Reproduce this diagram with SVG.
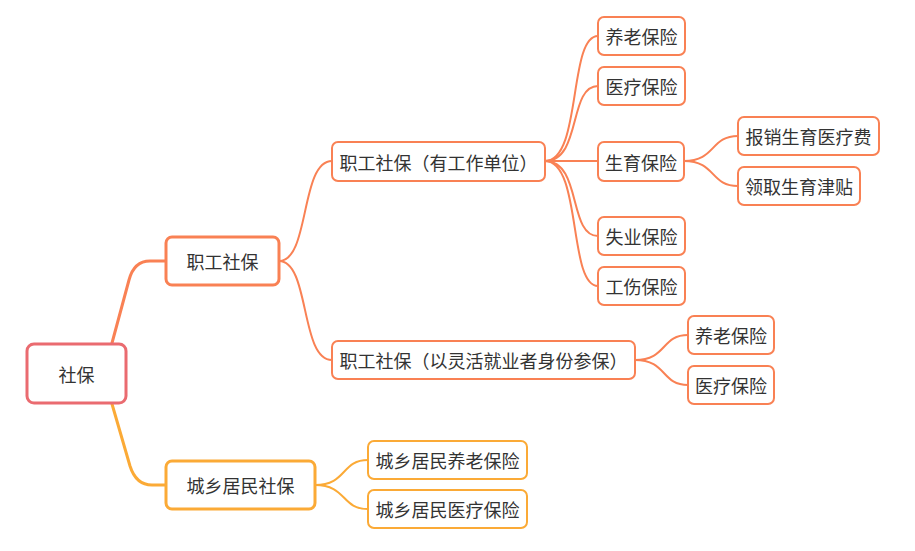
<svg xmlns="http://www.w3.org/2000/svg" width="915" height="551" viewBox="0 0 915 551">
<style>
rect{fill:#fff}
.r{stroke:#EA6B70;stroke-width:3}
.o1{stroke:#F98154;stroke-width:3}
.y1{stroke:#FBAA36;stroke-width:3}
.o{stroke:#F98154;stroke-width:2}
.y{stroke:#FBAA36;stroke-width:2}
text{font-family:"Noto Sans CJK SC","Microsoft YaHei",sans-serif;font-size:18px;fill:#333;text-anchor:middle;dominant-baseline:central}
#connectors path{fill:none;stroke-linecap:round}
</style>
<g id="connectors">
<path class="o1" d="M112,343 L129,280 Q134,261 150,261 L166,261"/>
<path class="y1" d="M112,404 L130,466 Q136,485 152,485 L166,485"/>
<path class="o" d="M279,261 C310,261 300,161 332,161"/>
<path class="o" d="M279,261 C310,261 300,360 332,360"/>
<path class="o" d="M545,161 C582,161 568,36 598,36"/>
<path class="o" d="M545,161 C582,161 568,86 598,86"/>
<path class="o" d="M545,161 L598,161"/>
<path class="o" d="M545,161 C582,161 568,236 598,236"/>
<path class="o" d="M545,161 C582,161 568,286 598,286"/>
<path class="o" d="M684,161 C716,161 710,136 738,136"/>
<path class="o" d="M684,161 C716,161 710,186 738,186"/>
<path class="o" d="M635,360 C667,360 661,335 688,335"/>
<path class="o" d="M635,360 C667,360 661,385 688,385"/>
<path class="y" d="M315,485 C347,485 341,460 368,460"/>
<path class="y" d="M315,485 C347,485 341,509 368,509"/>
</g>
<g id="root"><rect class="r" x="27" y="344" width="99" height="59" rx="7"/><text x="76.5" y="373.5">社保</text></g>
<g id="n1"><rect class="o1" x="166" y="237" width="113" height="48" rx="6"/><text x="222.5" y="261">职工社保</text></g>
<g id="n2"><rect class="y1" x="166" y="461" width="149" height="48" rx="6"/><text x="240.5" y="485">城乡居民社保</text></g>
<g id="n11"><rect class="o" x="332" y="142" width="213" height="39" rx="6"/><text x="438.5" y="161.5">职工社保（有工作单位）</text></g>
<g id="n12"><rect class="o" x="332" y="341" width="303" height="38" rx="6"/><text x="483.5" y="360">职工社保（以灵活就业者身份参保）</text></g>
<g id="n111"><rect class="o" x="598" y="17" width="87" height="38" rx="6"/><text x="641.5" y="36">养老保险</text></g>
<g id="n112"><rect class="o" x="598" y="67" width="87" height="38" rx="6"/><text x="641.5" y="86">医疗保险</text></g>
<g id="n113"><rect class="o" x="598" y="142" width="86" height="39" rx="6"/><text x="641" y="161.5">生育保险</text></g>
<g id="n114"><rect class="o" x="598" y="217" width="87" height="38" rx="6"/><text x="641.5" y="236">失业保险</text></g>
<g id="n115"><rect class="o" x="598" y="267" width="87" height="38" rx="6"/><text x="641.5" y="286">工伤保险</text></g>
<g id="n1131"><rect class="o" x="738" y="117" width="141" height="38" rx="6"/><text x="808.5" y="136">报销生育医疗费</text></g>
<g id="n1132"><rect class="o" x="738" y="167" width="122" height="38" rx="6"/><text x="799" y="186">领取生育津贴</text></g>
<g id="n121"><rect class="o" x="688" y="316" width="86" height="38" rx="6"/><text x="731" y="335">养老保险</text></g>
<g id="n122"><rect class="o" x="688" y="366" width="86" height="38" rx="6"/><text x="731" y="385">医疗保险</text></g>
<g id="n21"><rect class="y" x="368" y="441" width="159" height="38" rx="6"/><text x="447.5" y="460">城乡居民养老保险</text></g>
<g id="n22"><rect class="y" x="368" y="490" width="159" height="38" rx="6"/><text x="447.5" y="509">城乡居民医疗保险</text></g>
</svg>
